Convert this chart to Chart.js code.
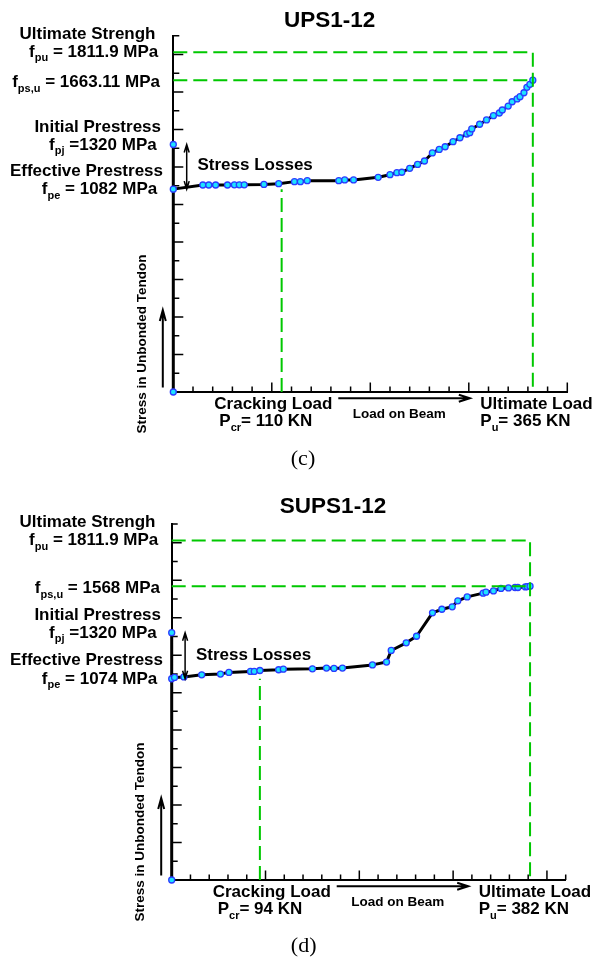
<!DOCTYPE html>
<html>
<head>
<meta charset="utf-8">
<script src="https://cdn.jsdelivr.net/npm/chart.js@4.4.1/dist/chart.umd.min.js"></script>
<style>
  html, body { margin: 0; padding: 0; background: #fff; }
  .panel { position: absolute; left: 0; width: 592px; }
  #panelC { top: 0; height: 475px; }
  #panelD { top: 475px; height: 486px; }
</style>
</head>
<body>
<div class="panel" id="panelC"><canvas id="chartC" width="592" height="475"></canvas></div>
<div class="panel" id="panelD"><canvas id="chartD" width="592" height="486"></canvas></div>
<script>
// UPS1-12: load on beam (kN) against stress in the unbonded tendon (MPa)
const upsLoad = [0, 0, 0, 30, 36, 43, 55, 62, 67, 72, 92, 107, 123, 129, 136, 168, 174, 183, 208, 220, 227, 232, 240, 248, 255, 263, 270, 276, 284, 291, 298, 301, 303, 311, 318, 325, 331, 334, 340, 344, 349, 352, 356, 359, 362, 365];
const upsStress = [0, 1320, 1082, 1104, 1104, 1104, 1104, 1105, 1105, 1105, 1107, 1111, 1122, 1122, 1127, 1127, 1131, 1131, 1145, 1159, 1170, 1172, 1193, 1214, 1232, 1275, 1294, 1308, 1335, 1356, 1376, 1383, 1403, 1428, 1451, 1474, 1488, 1504, 1525, 1548, 1563, 1575, 1596, 1625, 1641, 1663.11];
// fpu, fps,u, fpj, fpe
const upsLevels = [1811.9, 1663.11, 1320, 1082];
// Pcr, Pu
const upsLoads = [110, 365];

// SUPS1-12
const supsLoad = [0, 0, 0, 3, 13, 32, 52, 61, 84, 88, 94, 114, 119, 150, 165, 173, 182, 214, 229, 234, 250, 261, 278, 288, 299, 305, 315, 332, 335, 343, 351, 359, 366, 369, 377, 379, 382];
const supsStress = [0, 1320, 1074, 1081, 1084, 1095, 1099, 1108, 1113, 1113, 1118, 1122, 1125, 1127, 1131, 1129, 1131, 1148, 1163, 1225, 1266, 1301, 1426, 1445, 1458, 1490, 1511, 1531, 1536, 1543, 1556, 1559, 1561, 1561, 1564, 1566, 1568];
const supsLevels = [1811.9, 1568, 1320, 1074];
const supsLoads = [94, 382];

// axis ranges: stress 0-1900 by 100, load by 20
const stressMax = 1900;
const upsLoadMax = 400;
const supsLoadMax = 420;

const FONT = '"Liberation Sans", Arial, sans-serif';
const GREEN = '#00c800';

// rich text: parts = [[text, isSubscript], ...]
function richWidth(ctx, parts, size) {
  let w = 0;
  parts.forEach(p => {
    ctx.font = 'bold ' + (p[1] ? 11 : size) + 'px ' + FONT;
    w += ctx.measureText(p[0]).width;
  });
  return w;
}

function richText(ctx, parts, x, y, align, size) {
  size = size || 17;
  const w = richWidth(ctx, parts, size);
  let cx = align === 'right' ? x - w : align === 'center' ? x - w / 2 : x;
  ctx.textAlign = 'left';
  ctx.textBaseline = 'alphabetic';
  parts.forEach(p => {
    ctx.font = 'bold ' + (p[1] ? 11 : size) + 'px ' + FONT;
    ctx.fillText(p[0], cx, p[1] ? y + 4.5 : y);
    cx += ctx.measureText(p[0]).width;
  });
}

// open arrow head at (x, y) pointing along (dx, dy)
function arrowHead(ctx, x, y, dx, dy, len, half) {
  const nx = -dy, ny = dx;
  ctx.moveTo(x - dx * len + nx * half, y - dy * len + ny * half);
  ctx.lineTo(x, y);
  ctx.lineTo(x - dx * len - nx * half, y - dy * len - ny * half);
}

// inward tick marks, long ones on the major steps
const tickMarks = {
  id: 'tickMarks',
  beforeDatasetsDraw(chart) {
    const { ctx, chartArea: a, scales: { x, y } } = chart;
    ctx.save();
    ctx.strokeStyle = '#000';
    ctx.lineWidth = 1.5;
    ctx.beginPath();
    y.ticks.forEach(t => {
      if (t.value === 0) return;
      const py = y.getPixelForValue(t.value);
      ctx.moveTo(a.left, py);
      ctx.lineTo(a.left + (t.value % 200 === 0 ? 10 : 6), py);
    });
    x.ticks.forEach(t => {
      if (t.value === 0) return;
      const px = x.getPixelForValue(t.value);
      ctx.moveTo(px, a.bottom);
      ctx.lineTo(px, a.bottom - (t.value % 100 === 0 ? 9.5 : 5.5));
    });
    ctx.stroke();
    ctx.restore();
  }
};

function notes(spec) {
  return {
    id: 'notes',
    afterDraw(chart) {
      const { ctx, chartArea: a, scales: { x, y } } = chart;
      const [fpu, fpsu, fpj, fpe] = spec.levels;
      const [pcr, pu] = spec.loads;
      ctx.save();
      ctx.fillStyle = '#000';

      // title
      ctx.font = 'bold 22.5px ' + FONT;
      ctx.textAlign = 'center';
      ctx.fillText(spec.title, spec.titleX, a.top - spec.titleGap);

      // stress levels on the left
      richText(ctx, [['Ultimate Strengh']], 155.5, y.getPixelForValue(fpu) - 13.1, 'right');
      richText(ctx, [['f'], ['pu', 1], [' = ' + fpu + ' MPa']], 158.3, y.getPixelForValue(fpu) + 4.5, 'right');
      richText(ctx, [['f'], ['ps,u', 1], [' = ' + fpsu + ' MPa']], 160, y.getPixelForValue(fpsu) + 7.1, 'right');
      richText(ctx, [['Initial Prestress']], 161, y.getPixelForValue(fpj) - 12.2, 'right');
      richText(ctx, [['f'], ['pj', 1], [' =' + fpj + ' MPa']], 156.7, y.getPixelForValue(fpj) + 5.2, 'right');
      richText(ctx, [['Effective Prestress']], 163, y.getPixelForValue(fpe) - 13.4, 'right');
      richText(ctx, [['f'], ['pe', 1], [' = ' + fpe + ' MPa']], 157.2, y.getPixelForValue(fpe) + 5.2, 'right');

      // stress losses
      richText(ctx, [['Stress Losses']], a.left + 24.2, y.getPixelForValue(fpe) - 19, 'left');
      const sx = a.left + 13.4;
      const y1 = y.getPixelForValue(fpj), y2 = y.getPixelForValue(fpe);
      ctx.strokeStyle = '#000';
      ctx.lineWidth = 1.5;
      ctx.beginPath();
      ctx.moveTo(sx, y1);
      ctx.lineTo(sx, y2);
      arrowHead(ctx, sx, y1, 0, -1, 8, 2.5);
      arrowHead(ctx, sx, y2, 0, 1, 8, 2.5);
      ctx.stroke();

      // load labels under the axis
      richText(ctx, [['Cracking Load']], a.left + 41, a.bottom + 17.2, 'left');
      richText(ctx, [['P'], ['cr', 1], ['= ' + pcr + ' KN']], a.left + 46, a.bottom + 34, 'left');
      richText(ctx, [['Ultimate Load']], a.left + 307, a.bottom + 17.2, 'left');
      richText(ctx, [['P'], ['u', 1], ['= ' + pu + ' KN']], a.left + 307, a.bottom + 34, 'left');
      richText(ctx, [['Load on Beam']], a.left + 226, a.bottom + 25.5, 'center', 13.5);

      ctx.lineWidth = 2;
      ctx.beginPath();
      const ay = a.bottom + 6.2;
      ctx.moveTo(a.left + 165, ay);
      ctx.lineTo(a.left + 296.5, ay);
      arrowHead(ctx, a.left + 296.5, ay, 1, 0, 11, 3.5);
      ctx.stroke();

      // vertical axis title and arrow
      ctx.save();
      ctx.translate(a.left - 31.3, a.bottom - 48);
      ctx.rotate(-Math.PI / 2);
      ctx.font = 'bold 13.5px ' + FONT;
      ctx.textAlign = 'center';
      ctx.textBaseline = 'middle';
      ctx.fillText('Stress in Unbonded Tendon', 0, 0);
      ctx.restore();

      const ux = a.left - 10.5;
      ctx.beginPath();
      ctx.moveTo(ux, a.bottom - 4.5);
      ctx.lineTo(ux, a.bottom - 82);
      arrowHead(ctx, ux, a.bottom - 82, 0, -1, 11, 3);
      ctx.stroke();

      // panel caption
      ctx.font = '22px "Liberation Serif", "Times New Roman", serif';
      ctx.textAlign = 'center';
      ctx.textBaseline = 'alphabetic';
      ctx.fillText(spec.caption, spec.captionX, a.bottom + spec.captionGap);
      ctx.restore();
    }
  };
}

function guide(points) {
  return {
    data: points,
    showLine: true,
    borderColor: GREEN,
    borderWidth: 2,
    borderDash: [14, 6],
    pointRadius: 0,
    order: 1
  };
}

function makeChart(id, load, stress, levels, loads, loadMax, padding, spec) {
  const [fpu, fpsu, , fpe] = levels;
  const [pcr, pu] = loads;
  return new Chart(document.getElementById(id), {
    type: 'scatter',
    data: {
      datasets: [
        guide([{ x: 0, y: fpu }, { x: pu, y: fpu }, { x: pu, y: 0 }]),
        guide([{ x: 0, y: fpsu }, { x: pu, y: fpsu }]),
        guide([{ x: pcr, y: 0 }, { x: pcr, y: fpe }]),
        {
          data: load.map((v, i) => ({ x: v, y: stress[i] })),
          showLine: true,
          borderColor: '#000',
          borderWidth: 3,
          borderJoinStyle: 'round',
          pointRadius: 3,
          pointBorderWidth: 1.3,
          pointBackgroundColor: '#1ee3ff',
          pointBorderColor: '#2a3cff',
          order: 2
        }
      ]
    },
    options: {
      responsive: false,
      animation: false,
      events: [],
      clip: false,
      layout: { padding: padding },
      plugins: { legend: { display: false }, tooltip: { enabled: false } },
      scales: {
        x: {
          type: 'linear', min: 0, max: loadMax,
          ticks: { display: false, stepSize: 20 },
          grid: { display: false, drawTicks: false },
          border: { display: true, color: '#000', width: 2 }
        },
        y: {
          type: 'linear', min: 0, max: stressMax,
          ticks: { display: false, stepSize: 100 },
          grid: { display: false, drawTicks: false },
          border: { display: true, color: '#000', width: 2 }
        }
      }
    },
    plugins: [tickMarks, notes(spec)]
  });
}

makeChart('chartC', upsLoad, upsStress, upsLevels, upsLoads, upsLoadMax,
  { left: 173.3, top: 35.75, right: 24.7, bottom: 83 },
  { title: 'UPS1-12', titleX: 329.7, titleGap: 8.45, caption: '(c)', captionX: 303, captionGap: 73, levels: upsLevels, loads: upsLoads });

makeChart('chartD', supsLoad, supsStress, supsLevels, supsLoads, supsLoadMax,
  { left: 171.7, top: 49, right: 26.3, bottom: 81 },
  { title: 'SUPS1-12', titleX: 333, titleGap: 10.7, caption: '(d)', captionX: 303.7, captionGap: 71.6, levels: supsLevels, loads: supsLoads });
</script>
</body>
</html>
